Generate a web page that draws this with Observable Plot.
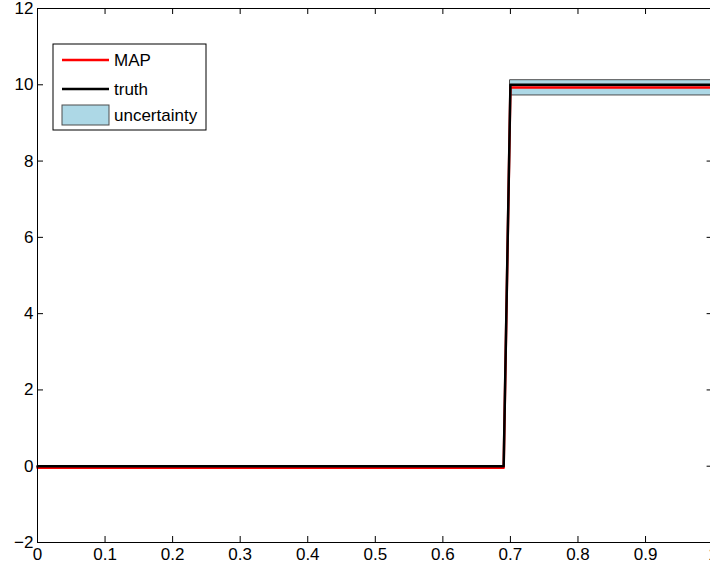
<!DOCTYPE html>
<html><head><meta charset="utf-8">
<script src="https://cdn.jsdelivr.net/npm/d3@7"></script>
<script src="https://cdn.jsdelivr.net/npm/@observablehq/plot@0.6"></script>
<style>body{margin:0;background:#fff}</style>
</head><body><div id="chart"></div>
<script>
// Data
const truthX = [0, 0.69, 0.70, 1];
const truthY = [0, 0, 10, 10];
const mapX = [0, 0.69, 0.70, 1];
const mapY = [-0.04, -0.04, 9.93, 9.93];
const bandX = [0.70, 1];
const bandLo = [9.72, 9.72];
const bandHi = [10.12, 10.12];
const xTicks = [0, 0.1, 0.2, 0.3, 0.4, 0.5, 0.6, 0.7, 0.8, 0.9, 1];
const xTickLabels = ["0", "0.1", "0.2", "0.3", "0.4", "0.5", "0.6", "0.7", "0.8", "0.9", "1"];
const yTicks = [-2, 0, 2, 4, 6, 8, 10, 12];
const yTickLabels = ["\u22122", "0", "2", "4", "6", "8", "10", "12"];
const legendLabels = ["MAP", "truth", "uncertainty"];
const colors = {map: "#ff0000", truth: "#000000", band: "#add8e6", bandEdge: "#4d4d4d"};

const truth = truthX.map((x, i) => ({x, y: truthY[i]}));
const map = mapX.map((x, i) => ({x, y: mapY[i]}));
const band = bandX.map((x, i) => ({x, lo: bandLo[i], hi: bandHi[i]}));

const W = 710, H = 570, mL = 37, mT = 8, mB = 28, mR = -2.6;
const tickLen = 6;
const lineW = 2.5;
const innerH = H - mT - mB;
const innerW = W - mL - mR;

const plot = Plot.plot({
  width: W, height: H,
  marginLeft: mL, marginTop: mT, marginBottom: mB, marginRight: mR,
  style: {fontFamily: "'Liberation Sans', Arial, sans-serif", fontSize: "17px", background: "white", overflow: "hidden"},
  x: {domain: [0, 1], label: null},
  y: {domain: [-2, 12], label: null},
  marks: [
    Plot.areaY(band, {x: "x", y1: "lo", y2: "hi", fill: colors.band, stroke: colors.bandEdge, strokeWidth: 1}),
    Plot.line(map, {x: "x", y: "y", stroke: colors.map, strokeWidth: lineW}),
    Plot.line(truth, {x: "x", y: "y", stroke: colors.truth, strokeWidth: lineW}),
    Plot.frame({stroke: "black", strokeWidth: 1}),
    Plot.tickX(xTicks, {x: d => d, insetTop: innerH - tickLen, stroke: "black"}),
    Plot.tickX(xTicks, {x: d => d, insetBottom: innerH - tickLen, stroke: "black"}),
    Plot.tickY(yTicks, {y: d => d, insetRight: innerW - tickLen, stroke: "black"}),
    Plot.tickY(yTicks, {y: d => d, insetLeft: innerW - tickLen, stroke: "black"}),
    Plot.axisX(xTicks, {tickSize: 0, tickPadding: 5, label: null, fill: "black",
      tickFormat: d => xTickLabels[xTicks.indexOf(d)]}),
    Plot.axisY(yTicks, {tickSize: 0, tickPadding: 4, label: null, fill: "black",
      tickFormat: d => yTickLabels[yTicks.indexOf(d)]})
  ]
});

// Legend (MATLAB-style box)
const svg = d3.select(plot);
const lg = svg.append("g").attr("font-family", "'Liberation Sans', Arial, sans-serif")
  .attr("font-size", 17).attr("text-anchor", "start");
lg.append("rect").attr("x", 53).attr("y", 44).attr("width", 153).attr("height", 86)
  .attr("fill", "white").attr("stroke", "black").attr("stroke-width", 1);
const rowsY = [60, 89, 115];
lg.append("line").attr("x1", 62).attr("x2", 109).attr("y1", rowsY[0]).attr("y2", rowsY[0])
  .attr("stroke", colors.map).attr("stroke-width", lineW);
lg.append("line").attr("x1", 62).attr("x2", 109).attr("y1", rowsY[1]).attr("y2", rowsY[1])
  .attr("stroke", colors.truth).attr("stroke-width", lineW);
lg.append("rect").attr("x", 62).attr("y", 105).attr("width", 47).attr("height", 20)
  .attr("fill", colors.band).attr("stroke", colors.bandEdge).attr("stroke-width", 1);
legendLabels.forEach((t, i) => {
  lg.append("text").attr("x", 114).attr("y", rowsY[i]).attr("dy", "0.35em")
    .attr("text-anchor", "start").attr("fill", "black").text(t);
});

document.getElementById("chart").appendChild(plot);
</script>
</body></html>
